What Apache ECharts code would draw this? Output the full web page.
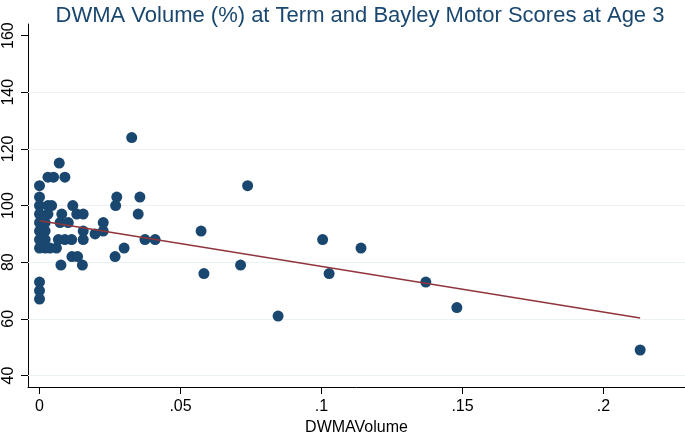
<!DOCTYPE html>
<html>
<head>
<meta charset="utf-8">
<script src="https://cdn.jsdelivr.net/npm/echarts@6/dist/echarts.min.js"></script>
<style>html,body{margin:0;padding:0;background:#fff}#c{width:685px;height:434px}</style>
</head>
<body>
<div id="c"></div>
<script>
var titleText = 'DWMA Volume (%) at Term and Bayley Motor Scores at Age 3';
var xName = 'DWMAVolume';
var xTicks = [0, 0.05, 0.1, 0.15, 0.2];
var xTickLabels = ['0', '.05', '.1', '.15', '.2'];
var yTicks = [40, 60, 80, 100, 120, 140, 160];
var yGrid = [40, 60, 80, 100, 120, 140];

var dwmaX = [
  0, 0, 0, 0, 0, 0, 0, 0, 0, 0, 0,
  0.003, 0.005, 0.003, 0.0043, 0.003, 0.002, 0.002, 0.002, 0.002, 0.0037, 0.006,
  0.009, 0.007,
  0.0079, 0.0118, 0.0132, 0.0155,
  0.0073, 0.0102, 0.0067, 0.009, 0.0114, 0.0155,
  0.0155, 0.0197, 0.0226, 0.0226,
  0.0115, 0.0135, 0.0076, 0.0152,
  0.0274, 0.0356, 0.027, 0.035, 0.030, 0.0268, 0.0374, 0.041, 0.0327,
  0.0573, 0.0583, 0.0713, 0.0738, 0.0846, 0.1004, 0.1027, 0.114, 0.137, 0.148, 0.213
];
var motorY = [
  107, 103, 100, 97, 94, 91, 88, 85, 73, 70, 67,
  110, 110, 100, 100, 97, 94, 91, 88, 85, 85, 85,
  110, 115,
  97, 100, 97, 97,
  94, 94, 88, 88, 88, 88,
  91, 90, 91, 94,
  82, 82, 79, 79,
  103, 103, 100, 97, 85, 82, 88, 88, 124,
  91, 76, 79, 107, 61, 88, 76, 85, 73, 64, 49
];
var fitX = [0, 0.213];
var fitY = [94.6, 60.3];

var pts = dwmaX.map(function (x, i) { return [x, motorY[i]]; });
var fit = fitX.map(function (x, i) { return [x, fitY[i]]; });

var chart = echarts.init(document.getElementById('c'), null, {renderer: 'canvas'});
var font = 'Liberation Sans, Arial, Helvetica, sans-serif';
chart.setOption({
  backgroundColor: '#ffffff',
  animation: false,
  title: {
    text: titleText,
    left: 355, top: 0, textAlign: 'center',
    textStyle: {color: '#1a476f', fontSize: 22, fontWeight: 'normal', fontFamily: font}
  },
  grid: {left: 28, right: 0, top: 24, bottom: 47, containLabel: false, outerBoundsMode: 'none'},
  xAxis: {
    type: 'value',
    min: -0.00408, max: 0.2289,
    name: xName, nameLocation: 'middle', nameGap: 33,
    nameTextStyle: {color: '#000', fontSize: 16, fontFamily: font},
    axisLine: {show: true, onZero: false, lineStyle: {color: '#000', width: 1}},
    axisTick: {show: true, length: 7, lineStyle: {color: '#000'}, customValues: xTicks},
    axisLabel: {
      color: '#000', fontSize: 16, fontFamily: font, margin: 12,
      customValues: xTicks,
      formatter: function (v) { var i = xTicks.indexOf(v); return i >= 0 ? xTickLabels[i] : ''; }
    },
    splitLine: {show: false}
  },
  yAxis: {
    type: 'value',
    min: 35.94, max: 164.1,
    axisLine: {show: true, onZero: false, lineStyle: {color: '#000', width: 1}},
    axisTick: {show: true, length: 7, lineStyle: {color: '#000'}, customValues: yTicks},
    axisLabel: {
      color: '#000', fontSize: 16, fontFamily: font, margin: 11, rotate: 90,
      customValues: yTicks,
      formatter: function (v) { return String(Math.round(v)); }
    },
    splitLine: {show: false}
  },
  series: [
    {
      type: 'line', data: [], zlevel: 0, z: 1, silent: true,
      markLine: {
        silent: true, symbol: 'none', label: {show: false},
        lineStyle: {color: '#eaf2f3', width: 1.2, type: 'solid'},
        data: yGrid.map(function (v) { return {yAxis: v}; })
      }
    },
    {
      type: 'scatter', data: pts, symbol: 'circle', symbolSize: 11, zlevel: 1, z: 3,
      itemStyle: {color: '#1a476f', opacity: 1}
    },
    {
      type: 'line', data: fit, symbol: 'none', zlevel: 1, z: 4,
      lineStyle: {color: '#90353b', width: 1.5}
    }
  ]
});
</script>
</body>
</html>
